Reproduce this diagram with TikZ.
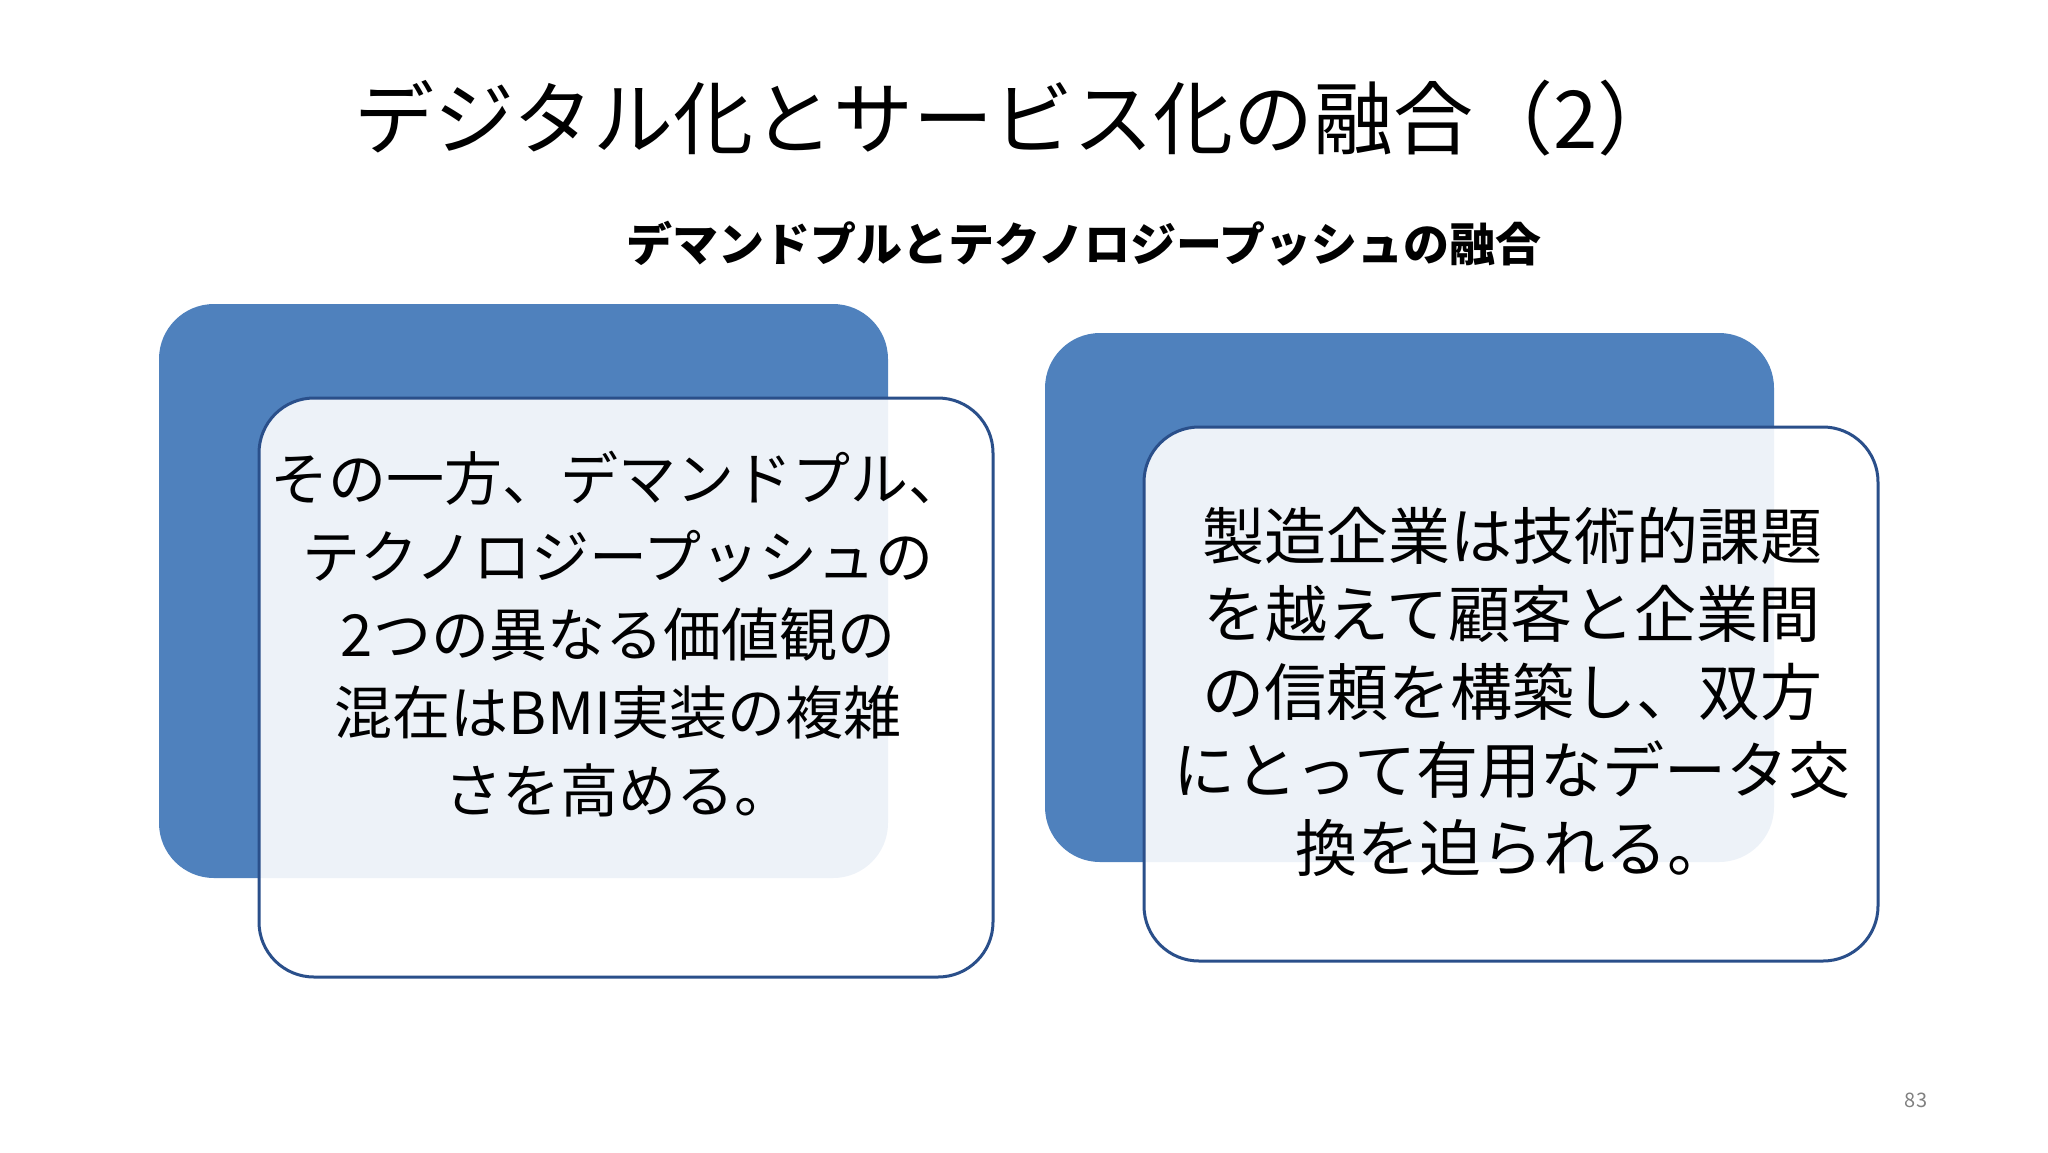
\documentclass[tikz,border=0pt]{standalone}
\usepackage{fontspec}
\setmainfont{Noto Sans CJK JP}
\definecolor{bblue}{HTML}{4F81BD}
\definecolor{bdark}{HTML}{2A4F8A}
\begin{document}
\begin{tikzpicture}[x=1pt,y=-1pt,
  backbox/.style={fill=bblue,rounded corners=55pt,draw=none},
  frontbox/.style={fill=white,fill opacity=0.9,draw=bdark,line width=3pt,rounded corners=55pt},
  body/.style={align=center,text=black,font=\fontsize{58}{78}\selectfont}]
\useasboundingbox (0,0) rectangle (2048,1152);
\node[font=\fontsize{80}{90}\selectfont,anchor=center] (title) at (1016,118) {デジタル化とサービス化の融合（2）};
\node[font=\bfseries\fontsize{46}{54}\selectfont] (sub) at (1084,244) {デマンドプルとテクノロジープッシュの融合};
\fill[backbox] (159,304) rectangle (888,878);
\draw[frontbox] (259,398) rectangle (993,977);
\fill[backbox] (1045,333) rectangle (1774,862);
\draw[frontbox] (1144,427) rectangle (1878,961);
\node[body] (lt) at (618,634) {その一方、デマンドプル、\\テクノロジープッシュの\\2つの異なる価値観の\\混在はBMI実装の複雑\\さを高める。};
\node[body,font=\fontsize{62}{78}\selectfont] (rt) at (1512,692) {製造企業は技術的課題\\を越えて顧客と企業間\\の信頼を構築し、双方\\にとって有用なデータ交\\換を迫られる。};
\node[text=gray,font=\fontsize{20}{24}\selectfont] (pg) at (1916,1100) {83};
\end{tikzpicture}
\end{document}
